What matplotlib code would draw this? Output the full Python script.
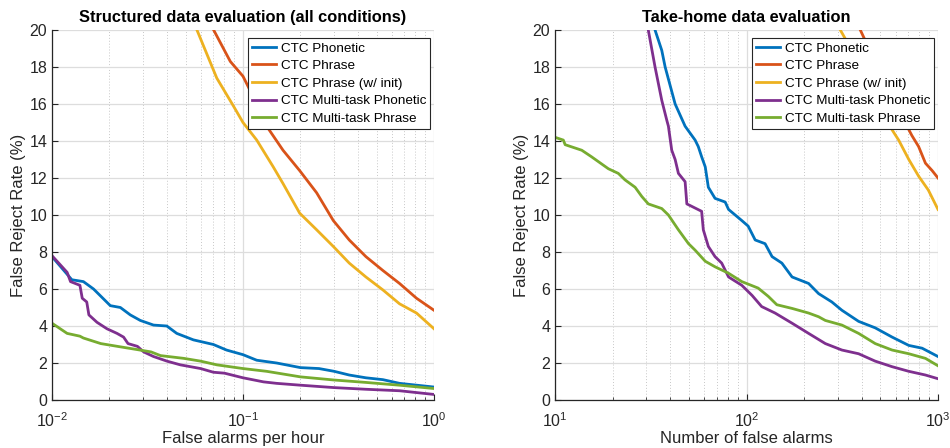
import matplotlib
matplotlib.use("Agg")
import matplotlib.pyplot as plt
from matplotlib.ticker import LogLocator, NullFormatter

plt.rcParams['font.family'] = ['Liberation Sans', 'DejaVu Sans']
plt.rcParams['mathtext.fontset'] = 'custom'
plt.rcParams['mathtext.rm'] = 'Liberation Sans'

labels = ["CTC Phonetic", "CTC Phrase", "CTC Phrase (w/ init)",
          "CTC Multi-task Phonetic", "CTC Multi-task Phrase"]
colors = ["#0072BD", "#D95319", "#EDB120", "#7E2F8E", "#77AC30"]

# ---- Left: structured data (false alarms per hour) ----
L_phon_x = [0.01, 0.0127, 0.0146, 0.0165, 0.0202, 0.0228, 0.0257, 0.029, 0.034, 0.0399, 0.045, 0.055, 0.07, 0.082, 0.1, 0.118, 0.15, 0.2, 0.25, 0.3, 0.36, 0.44, 0.54, 0.66, 1.0]
L_phon_y = [7.75, 6.5, 6.4, 6.0, 5.1, 5.0, 4.6, 4.3, 4.05, 4.0, 3.6, 3.25, 3.0, 2.7, 2.45, 2.15, 2.0, 1.75, 1.7, 1.55, 1.35, 1.2, 1.1, 0.9, 0.7]

L_phr_x = [0.0702, 0.0858, 0.1, 0.113, 0.133, 0.162, 0.198, 0.243, 0.297, 0.36, 0.44, 0.54, 0.66, 0.81, 1.0]
L_phr_y = [20.0, 18.3, 17.5, 16.4, 14.8, 13.5, 12.4, 11.2, 9.7, 8.65, 7.75, 7.0, 6.3, 5.5, 4.85]

L_phri_x = [0.0574, 0.0729, 0.089, 0.1, 0.118, 0.144, 0.162, 0.198, 0.243, 0.297, 0.36, 0.44, 0.54, 0.66, 0.81, 1.0]
L_phri_y = [20.0, 17.4, 15.9, 15.0, 14.05, 12.6, 11.7, 10.1, 9.2, 8.3, 7.4, 6.65, 5.95, 5.2, 4.7, 3.85]

L_mphon_x = [0.01, 0.012, 0.0125, 0.014, 0.0144, 0.0152, 0.0156, 0.0172, 0.0194, 0.0219, 0.0237, 0.025, 0.028, 0.0302, 0.034, 0.04, 0.047, 0.06, 0.07, 0.08, 0.1, 0.128, 0.15, 0.2, 0.3, 0.44, 0.66, 1.0]
L_mphon_y = [7.8, 6.9, 6.4, 6.2, 5.5, 5.3, 4.6, 4.2, 3.85, 3.6, 3.4, 3.05, 2.9, 2.6, 2.35, 2.1, 1.9, 1.7, 1.5, 1.45, 1.2, 0.98, 0.9, 0.8, 0.67, 0.58, 0.5, 0.3]

L_mphr_x = [0.01, 0.012, 0.014, 0.0146, 0.018, 0.022, 0.027, 0.033, 0.037, 0.049, 0.06, 0.073, 0.1, 0.133, 0.2, 0.3, 0.44, 0.66, 1.0]
L_mphr_y = [4.15, 3.6, 3.45, 3.35, 3.05, 2.9, 2.75, 2.6, 2.4, 2.25, 2.1, 1.9, 1.7, 1.55, 1.25, 1.08, 0.95, 0.8, 0.62]

# ---- Right: take-home data (number of false alarms) ----
R_phon_x = [33.3, 36.1, 37.6, 42.4, 47.8, 53.9, 56, 58.3, 60.9, 63.2, 65.8, 68.5, 77.4, 80.6, 94.5, 102, 111, 125, 136, 153, 173, 211, 238, 279, 315, 385, 470, 576, 704, 826, 1000]
R_phon_y = [20.0, 18.9, 18.0, 16.0, 14.8, 14.05, 13.7, 13.15, 12.6, 11.5, 11.2, 10.9, 10.7, 10.3, 9.7, 9.4, 8.65, 8.45, 7.75, 7.4, 6.65, 6.3, 5.75, 5.3, 4.85, 4.25, 3.9, 3.4, 2.95, 2.8, 2.35]

R_phr_x = [393, 416, 470, 560, 650, 730, 792, 860, 932, 1000]
R_phr_y = [20.0, 19.45, 18.2, 16.8, 15.3, 14.3, 13.7, 12.8, 12.4, 12.0]

R_phri_x = [309, 355, 420, 500, 576, 623, 704, 792, 890, 1000]
R_phri_y = [20.0, 18.9, 17.6, 15.9, 14.6, 14.05, 13.0, 12.1, 11.35, 10.3]

R_mphon_x = [30.7, 33.3, 36.1, 38.4, 39.1, 40.7, 42.4, 44.1, 47.8, 48.8, 58.3, 59.5, 63.2, 68.5, 74.2, 80.6, 94.5, 107, 120, 141, 173, 211, 258, 315, 385, 470, 576, 704, 860, 1000]
R_mphon_y = [20.0, 18.0, 16.2, 15.1, 14.8, 13.5, 13.0, 12.25, 11.8, 10.6, 10.2, 9.2, 8.3, 7.75, 7.4, 6.65, 6.2, 5.65, 5.05, 4.7, 4.15, 3.6, 3.05, 2.7, 2.5, 2.1, 1.8, 1.55, 1.35, 1.15]

R_mphr_x = [10, 11.05, 11.3, 13.8, 15.5, 19.0, 21.4, 23.2, 26.2, 28.4, 30.7, 36.1, 39.1, 44.1, 49.8, 53.9, 60.9, 68.5, 80.6, 94.5, 115, 130, 144, 173, 211, 238, 258, 315, 385, 470, 576, 704, 860, 1000]
R_mphr_y = [14.2, 14.05, 13.8, 13.5, 13.15, 12.5, 12.25, 11.9, 11.5, 11.0, 10.6, 10.35, 10.0, 9.2, 8.45, 8.1, 7.5, 7.2, 6.85, 6.4, 6.05, 5.6, 5.15, 4.95, 4.7, 4.5, 4.3, 4.05, 3.6, 3.05, 2.7, 2.5, 2.25, 1.85]

left_series = [(L_phon_x, L_phon_y), (L_phr_x, L_phr_y), (L_phri_x, L_phri_y),
               (L_mphon_x, L_mphon_y), (L_mphr_x, L_mphr_y)]
right_series = [(R_phon_x, R_phon_y), (R_phr_x, R_phr_y), (R_phri_x, R_phri_y),
                (R_mphon_x, R_mphon_y), (R_mphr_x, R_mphr_y)]

y_ticks = [0, 2, 4, 6, 8, 10, 12, 14, 16, 18, 20]

fig = plt.figure(figsize=(9.5, 4.48), dpi=100)
ax1 = fig.add_axes([52/950, 1 - 400/448, 382/950, 370/448])
ax2 = fig.add_axes([555/950, 1 - 400/448, 383/950, 370/448])

def style(ax, series, xlim, xticks, xticklabels, title, xlabel):
    for (x, y), c, lab in zip(series, colors, labels):
        ax.plot(x, y, color=c, lw=2.0, label=lab)
    ax.set_xscale('log')
    ax.set_xlim(*xlim)
    ax.set_ylim(0, 20)
    ax.set_yticks(y_ticks)
    ax.set_xticks(xticks)
    ax.set_xticklabels(xticklabels)
    ax.xaxis.set_minor_locator(LogLocator(base=10, subs=range(2, 10)))
    ax.xaxis.set_minor_formatter(NullFormatter())
    ax.grid(True, which='major', color='#DDDDDD', lw=0.9, ls='-')
    ax.grid(True, which='minor', axis='x', color='#C8C8C8', lw=0.7, ls=(0, (1, 2)))
    ax.set_axisbelow(True)
    for s in ['top', 'right']:
        ax.spines[s].set_visible(False)
    for s in ['left', 'bottom']:
        ax.spines[s].set_color('#262626')
        ax.spines[s].set_linewidth(0.9)
    ax.tick_params(which='both', direction='in', colors='#262626', labelcolor='#262626')
    ax.tick_params(which='major', length=4, labelsize=11.5)
    ax.tick_params(which='minor', length=2)
    ax.tick_params(axis='x', pad=8)
    ax.set_title(title, fontsize=11.8, fontweight='bold', pad=6, color='black')
    ax.set_xlabel(xlabel, fontsize=12, color='#262626', labelpad=1)
    ax.set_ylabel('False Reject Rate (%)', fontsize=12, color='#262626', labelpad=2)
    leg = ax.legend(loc='upper right', bbox_to_anchor=(0.99, 0.978), fontsize=9.7,
                    frameon=True, fancybox=False, edgecolor='#262626', framealpha=1,
                    handlelength=1.8, handletextpad=0.35, borderpad=0.3, labelspacing=0.38,
                    borderaxespad=0.0)
    leg.get_frame().set_linewidth(0.8)

style(ax1, left_series, (0.01, 1.0), [0.01, 0.1, 1.0], [r'$10^{-2}$', r'$10^{-1}$', r'$10^{0}$'],
      'Structured data evaluation (all conditions)', 'False alarms per hour')
style(ax2, right_series, (10, 1000), [10, 100, 1000], [r'$10^{1}$', r'$10^{2}$', r'$10^{3}$'],
      'Take-home data evaluation', 'Number of false alarms')

fig.savefig('out.png', dpi=100)
